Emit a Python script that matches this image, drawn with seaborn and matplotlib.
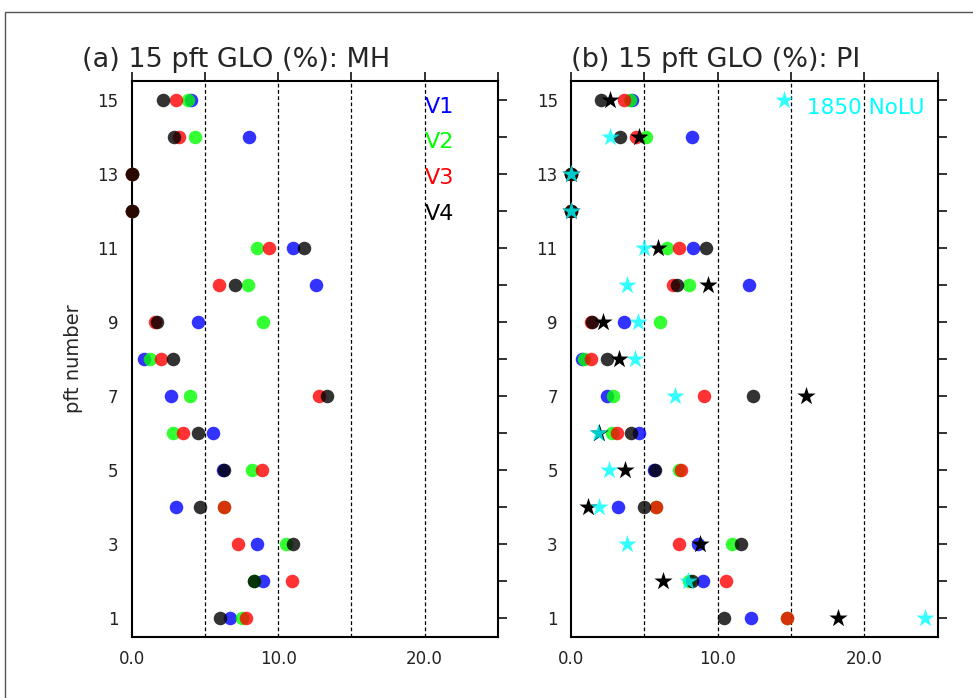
import numpy as np
import pandas as pd
import matplotlib
matplotlib.use("Agg")
import matplotlib.pyplot as plt
import seaborn as sns
from matplotlib.patches import Rectangle

# pft Nummern 1..15
pft = list(range(1, 16))

# (a) MH: Anteil je pft (%)
mh_v1 = [6.71, 8.97, 8.56, 3.03, 6.21, 5.53, 2.66, 0.84, 4.51, 12.61, 11.04, 0, 0, 8.01, 4.03]
mh_v2 = [7.51, 8.33, 10.54, 6.33, 8.20, 2.80, 4.00, 1.25, 8.95, 7.94, 8.58, 0, 0, 4.30, 3.82]
mh_v3 = [7.79, 10.95, 7.28, 6.33, 8.88, 3.50, 12.82, 1.98, 1.59, 5.94, 9.38, 0, 0, 3.25, 3.03]
mh_v4 = [6.05, 8.33, 11.00, 4.64, 6.33, 4.53, 13.32, 2.84, 1.71, 7.03, 11.77, 0, 0, 2.89, 2.12]

# (b) PI
pi_v1 = [12.27, 8.98, 8.64, 3.23, 5.68, 4.66, 2.48, 0.73, 3.61, 12.13, 8.34, 0, 0, 8.23, 4.14]
pi_v2 = [14.70, 8.07, 10.95, 5.77, 7.38, 2.77, 2.89, 0.89, 6.07, 8.07, 6.52, 0, 0, 5.09, 4.02]
pi_v3 = [14.70, 10.57, 7.38, 5.77, 7.52, 3.16, 9.07, 1.34, 1.34, 6.97, 7.36, 0, 0, 4.43, 3.61]
pi_v4 = [10.43, 8.23, 11.57, 4.98, 5.73, 4.09, 12.43, 2.48, 1.41, 7.25, 9.20, 0, 0, 3.34, 2.02]
pi_star = [18.18, 6.25, 8.79, 1.14, 3.68, 1.93, 16.02, 3.30, 2.20, 9.36, 5.91, 0, 0, 4.66, 2.66]
nolu_1850 = [24.13, 7.95, 3.79, 1.93, 2.59, 1.86, 7.09, 4.34, 4.54, 3.79, 5.00, 0, 0, 2.66, 14.54]

versions = ["V1", "V2", "V3", "V4"]
colors = ["blue", "lime", "red", "black"]

sns.set_style("white")
plt.rcParams['font.family'] = ['DejaVu Sans']

fig = plt.figure(figsize=(9.73, 6.98), dpi=100)
ax_a = fig.add_axes([131.7 / 973, 61 / 698, 366 / 973, 556 / 698])
ax_b = fig.add_axes([571 / 973, 61 / 698, 366.7 / 973, 556 / 698])

# Rahmen um die Abbildung
fig.add_artist(Rectangle((5 / 973, -0.1), 1.2, 1.1 - 12 / 698, transform=fig.transFigure,
                         fill=False, edgecolor='#555555', lw=1))

panels = [
    (ax_a, [mh_v1, mh_v2, mh_v3, mh_v4], "(a) 15 pft GLO (%): MH", 82.5),
    (ax_b, [pi_v1, pi_v2, pi_v3, pi_v4], "(b) 15 pft GLO (%): PI", 571),
]

for ax, series, title, tx in panels:
    for vals, col in zip(series, colors):
        sns.scatterplot(x=vals, y=pft, ax=ax, color=col, s=95, alpha=0.8,
                        linewidth=0, marker='o', zorder=3)
    if ax is ax_b:
        sns.scatterplot(x=pi_star, y=pft, ax=ax, color='black', s=190, alpha=1.0,
                        linewidth=0, marker='*', zorder=4)
        sns.scatterplot(x=nolu_1850, y=pft, ax=ax, color='cyan', s=190, alpha=0.8,
                        linewidth=0, marker='*', zorder=4)
    for c in ax.collections:
        c.set_clip_on(False)

    ax.set_xlim(0, 25)
    ax.set_ylim(0.5, 15.5)
    ax.set_xticks([0, 5, 10, 15, 20, 25])
    ax.set_xticklabels(['0.0', '', '10.0', '', '20.0', ''])
    ax.set_yticks(pft)
    ax.set_yticklabels([str(p) if p % 2 else '' for p in pft])
    ax.tick_params(axis='both', which='both', direction='out', length=6.5, width=1.3,
                   labelsize=12, colors='#222222', top=True, right=True,
                   labeltop=False, labelright=False, pad=3)
    for sp in ax.spines.values():
        sp.set_linewidth(1.5)
        sp.set_color('black')
        sp.set_visible(True)
    for xv in [5, 10, 15, 20]:
        ax.axvline(xv, color='black', lw=0.9, ls=(0, (3, 2)), zorder=1)
    ax.set_xlabel('')
    ax.set_ylabel('')

    fig.text(tx / 973, 1 - 66.7 / 698, title, fontsize=19.5, va='baseline', ha='left')

ax_a.set_ylabel("pft number", fontsize=14, labelpad=10)

# Legende als farbiger Text
for i, (v, col) in enumerate(zip(versions, colors)):
    fig.text(425 / 973, 1 - (107 + 35.5 * i) / 698, v, color=col, fontsize=16,
             va='center', ha='left')
fig.text(807 / 973, 1 - 108 / 698, "1850 NoLU", color='cyan', fontsize=15.5,
         va='center', ha='left')

plt.savefig("out.png", dpi=100)
